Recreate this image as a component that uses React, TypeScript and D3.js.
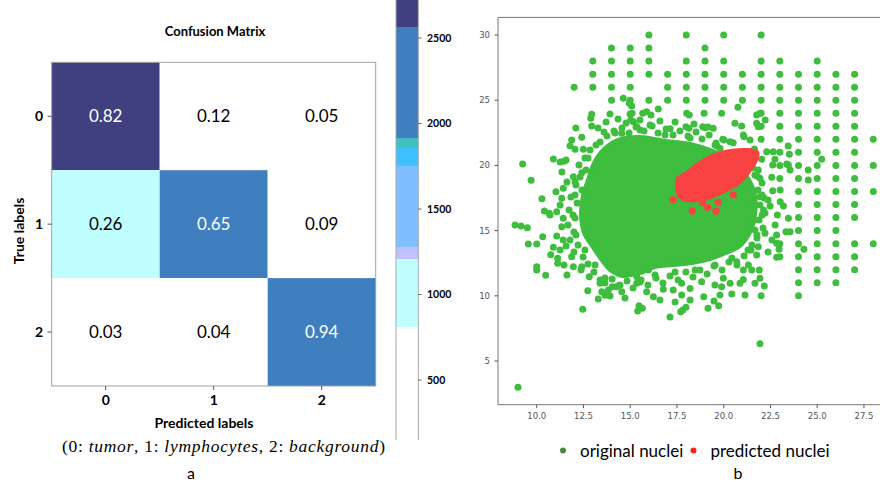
import React from 'react';
import * as d3 from 'd3';

// ---------- panel a: confusion matrix ----------
const classLabels = ['0', '1', '2'];
const matrixValues = [
	[0.82, 0.12, 0.05],
	[0.26, 0.65, 0.09],
	[0.03, 0.04, 0.94],
];
// sample counts behind the cell colours
const matrixCounts = [
	[2650, 420, 170],
	[1000, 2250, 300],
	[110, 140, 2400],
];
const colorbarTicks = [500, 1000, 1500, 2000, 2500];
const colorbarBounds = [810, 1208, 1278, 1752, 1857, 1915, 2564];
const colorbarColors = ['#ffffff', '#c0ffff', '#c0c0ff', '#80bfff', '#40bfff', '#40bfbf', '#3f7fbf', '#403f7f'];
const colorbarDomain = [150, 2722];

// ---------- panel b: nuclei scatter ----------
const xTickLabels = [10, 12.5, 15, 17.5, 20, 22.5, 25, 27.5];
const yTickLabels = [5, 10, 15, 20, 25, 30];

// sparse nuclei lying on the integer grid: row value -> column values
const gridRowY = [30, 29, 28, 27, 26, 25, 24, 23, 22, 21, 20, 19, 18, 17, 16, 15, 14, 13, 12, 11, 10];
const gridRowX = [
	[16, 18, 20, 22],
	[14, 15, 16, 19],
	[13, 14, 15, 16, 18, 19, 20, 22, 23, 25],
	[13, 14, 15, 16, 17, 18, 19, 20, 21, 22, 23, 24, 25, 26, 27],
	[12, 13, 14, 15, 17, 18, 19, 20, 21, 22, 23, 24, 25, 26, 27],
	[14, 15, 16, 17, 18, 19, 20, 21, 22, 23, 24, 25, 26, 27],
	[22, 23, 24, 25, 26, 27],
	[22, 23, 24, 25, 26, 27],
	[22, 23, 24, 25, 26, 27, 28],
	[23, 24, 25, 26, 27],
	[23, 24, 25, 26, 27, 28],
	[23, 24, 25, 26, 27],
	[24, 25, 26, 27, 28],
	[24, 25, 26, 27],
	[24, 25, 26, 27],
	[24, 25, 26],
	[23, 24, 25, 26, 27, 28],
	[23, 24, 25, 26, 27],
	[24, 25, 26, 27],
	[24, 25, 26],
	[22, 24],
];

// solid, fully overlapped part of the original nuclei cloud
const denseOriginalOutline: [number, number][] = [
	[13.55, 21.18], [14.35, 21.95], [15.52, 22.18], [16.86, 21.87], [18.2, 21.64], [19.43, 21.1],
	[20.6, 20.18], [21.3, 19.03], [21.67, 17.73], [21.67, 16.2], [21.41, 14.89], [20.87, 13.82],
	[20.12, 13.28], [19.27, 12.82], [18.3, 12.51], [17.3, 12.36], [16.33, 12.21], [15.52, 11.75],
	[14.56, 11.52], [13.92, 11.98], [13.44, 12.82], [12.96, 13.82], [12.53, 14.82], [12.37, 16.2],
	[12.48, 17.73], [12.74, 18.88], [13.06, 20.18],
];

const originalNuclei: [number, number][] = [
	// outliers, left and bottom
	[9.25, 20.11], [9.7, 18.86], [8.84, 15.43], [9.16, 15.35], [9.5, 15.22], [10.28, 17.45], [10.41, 16.5],
	[10.89, 20.49], [11.25, 20.26], [11.46, 20.31], [11.03, 17.98], [10.32, 14.53], [10.67, 16.33],
	[9.55, 13.97], [10.0, 13.97], [10.0, 12.23], [10.0, 11.98], [10.48, 11.57], [10.75, 13.15],
	[10.89, 13.72], [11.12, 12.88], [11.12, 12.49], [11.46, 12.36], [11.57, 13.82], [12.46, 8.96],
	[12.73, 10.39], [13.29, 9.75], [13.65, 10.04], [14.04, 10.7], [15.4, 8.83], [15.47, 9.24],
	[15.65, 9.04], [17.13, 8.37], [17.7, 8.78], [17.81, 8.91], [17.98, 9.12], [19.16, 9.04],
	[19.73, 9.24], [19.48, 9.6], [18.93, 9.93], [21.94, 6.33], [9.0, 2.98], [22.17, 10.75],
	[21.05, 11.26], [20.87, 10.96], [20.43, 10.14], [19.89, 10.7], [22.83, 12.95], [24.29, 13.57],
	[22.96, 13.57],
	// upper edge
	[12.09, 22.87], [11.78, 21.51], [11.87, 21.95], [12.41, 22.15], [12.89, 23.61], [12.94, 23.92],
	[13.6, 22.56], [14.63, 25.15], [14.95, 24.76], [15.08, 24.55], [15.1, 24.0], [15.03, 23.48],
	[15.67, 24.0], [15.88, 24.12], [16.11, 23.86], [16.5, 24.32], [16.06, 23.1], [15.17, 23.35],
	[15.35, 22.97], [14.55, 22.46], [17.13, 22.81], [18.02, 24.0], [18.16, 23.86], [17.98, 22.97],
	[18.14, 22.84], [18.88, 22.97], [19.0, 22.89], [19.44, 22.84], [20.76, 24.46], [20.6, 23.23],
	[21.76, 23.86], [21.94, 24.0], [22.22, 23.48], [21.76, 23.23], [21.09, 22.2], [21.85, 22.97],
	[20.34, 21.82], [20.51, 21.74], [19.63, 21.49], [19.8, 21.31], [21.64, 21.26], [22.3, 21.05],
	[22.65, 21.05], [22.74, 20.47], [23.45, 21.49], [23.51, 20.85], [23.37, 20.11], [23.55, 19.65],
	[25.24, 20.47], [18.95, 24.0],
	// left flank
	[13.92, 23.94], [14.99, 23.94], [12.94, 23.02], [12.05, 21.23], [12.49, 21.23], [12.41, 19.44],
	[11.96, 19.13], [12.05, 18.75], [11.42, 18.24], [11.34, 17.48], [11.07, 16.45], [10.71, 16.2],
	[11.42, 15.94], [11.34, 15.3], [11.07, 14.59], [11.87, 13.0], [11.96, 12.23], [12.41, 12.23],
	[12.81, 11.46], [13.39, 10.96], [13.48, 10.31], [13.83, 10.44], [14.28, 10.7], [14.55, 10.31],
	[15.35, 10.96],
	// lower edge
	[15.35, 11.46], [15.97, 11.98], [15.88, 10.31], [16.24, 9.93], [16.77, 10.5], [17.3, 10.44],
	[17.75, 10.96], [17.75, 10.06], [18.2, 10.57], [18.82, 11.08], [19.53, 10.83], [19.8, 10.06],
	[19.98, 11.34], [20.34, 10.96], [21.05, 11.98], [21.32, 12.36], [21.5, 11.98], [21.67, 10.96],
	[21.9, 11.98], [21.94, 11.34], [22.83, 14.03], [22.83, 14.66], [23.33, 14.92], [22.21, 14.79],
	[21.85, 13.76], [21.76, 13.13], [20.7, 12.61],
	// right flank
	[19.89, 24.0], [20.96, 23.02], [19.95, 22.0], [21.05, 22.33], [21.41, 21.95], [22.03, 20.47],
	[22.62, 20.03], [23.46, 20.03], [21.85, 19.65], [21.94, 19.01], [22.57, 19.09], [23.02, 18.11],
	[22.62, 18.06], [23.02, 17.22], [23.19, 16.89], [22.48, 16.89], [22.13, 16.58], [22.87, 16.2],
	[23.46, 15.94], [23.55, 14.92], [22.75, 15.43], [21.67, 15.05], [21.67, 15.81], [21.58, 16.83],
	[24.52, 19.65], [24.52, 18.88], [21.94, 17.6],
	// ring around the solid core
	[13.39, 21.79], [13.76, 22.25], [14.13, 22.64], [14.56, 22.87], [14.94, 22.48], [15.31, 22.94],
	[15.74, 22.64], [16.17, 23.02], [16.49, 22.48], [16.92, 22.79], [17.29, 22.33], [17.66, 22.64],
	[18.09, 22.25], [18.52, 22.56], [18.84, 22.02], [19.22, 22.33], [19.59, 21.72], [20.02, 21.95],
	[12.85, 21.18], [12.58, 20.57], [12.26, 20.03], [12.64, 19.65], [12.1, 18.5], [12.42, 18.11],
	[11.83, 17.58], [12.16, 17.12], [11.73, 16.58], [12.05, 15.97], [11.67, 15.43], [11.99, 14.89],
	[11.78, 14.28], [12.21, 13.89], [11.99, 13.36], [12.48, 12.97], [12.74, 12.44], [12.37, 11.98],
	[13.06, 11.82], [13.39, 11.21],
	[13.65, 10.98], [14.03, 11.29], [14.35, 10.75], [14.83, 11.13], [15.15, 10.6], [15.58, 11.21],
	[15.95, 10.83], [16.38, 11.36], [16.75, 10.98], [17.13, 11.52], [17.56, 11.21], [17.98, 11.82],
	[18.36, 11.44], [18.73, 11.98], [19.11, 11.67], [19.48, 12.28], [19.91, 11.98], [20.28, 12.59],
	[20.71, 12.36], [21.09, 13.05], [21.46, 13.51],
	[20.87, 20.8], [21.3, 20.41], [21.56, 19.8], [21.78, 19.19], [22.05, 18.65], [21.83, 18.11],
	[22.16, 17.5], [21.94, 16.96], [22.21, 16.35], [21.89, 15.81], [22.1, 15.2], [21.78, 14.43],
	[21.51, 13.89],
	// edge of the cloud, just outside the ring
	[13.17, 21.56], [14.19, 22.48], [15.53, 22.71], [16.86, 22.33], [18.2, 22.1], [19.54, 21.56],
	[20.87, 20.57], [21.67, 19.26], [22.05, 17.73], [22.05, 16.2], [21.78, 14.66], [21.3, 13.51],
	[20.44, 12.9], [19.54, 12.36], [18.47, 11.98], [17.4, 11.82], [16.33, 11.59], [15.53, 11.06],
	[14.45, 10.83], [13.65, 11.36], [13.12, 12.36], [12.58, 13.51], [12.1, 14.66], [11.94, 16.2],
	[12.05, 17.73], [12.32, 19.11], [12.74, 20.57],
	[13.28, 22.87], [13.71, 23.33], [14.35, 23.56], [14.78, 23.25], [15.52, 23.48], [16.59, 23.4],
	[17.4, 23.33], [18.41, 23.17], [19.16, 22.94],
	[11.57, 20.41], [11.35, 19.49], [11.62, 18.73], [11.25, 16.96], [11.41, 14.28], [11.25, 13.51],
	[11.62, 11.59],
	[13.92, 9.98], [14.72, 9.83], [16.59, 9.68], [17.4, 9.52], [18.2, 9.68], [21.14, 10.06],
	[22.37, 17.35], [22.58, 14.28], [22.37, 13.36],
];

// overlapped cluster of predicted nuclei, and the few that stand apart
const densePredictedOutline: [number, number][] = [
	[17.52, 18.88], [17.68, 17.58], [18.73, 17.35], [19.8, 17.88], [20.87, 18.73], [21.41, 19.65],
	[21.78, 20.57], [21.78, 21.03], [21.14, 21.18], [20.07, 21.03], [19.27, 20.64], [18.57, 20.03],
	[18.09, 19.49], [17.74, 19.19],
];
const predictedNuclei: [number, number][] = [
	[17.3, 17.35], [18.32, 16.5], [19.14, 16.79], [19.59, 16.5], [19.7, 17.17], [20.51, 17.73], [18.86, 17.14],
];

const legendItems = [
	{ label: 'original nuclei', color: '#4a8a3a' },
	{ label: 'predicted nuclei', color: '#ff1f1f' },
];

const GREEN = '#3ebd3e';
const RED = '#f94242';
const SANS = 'Lato, "Open Sans", sans-serif';

const ConfusionPanel = () => {
	const col = d3.scaleBand().domain(classLabels).range([51.7, 375.7]);
	const row = d3.scaleBand().domain(classLabels).range([62.3, 386]);
	const colorOf = d3.scaleThreshold<number, string>().domain(colorbarBounds).range(colorbarColors);
	const cbY = d3.scaleLinear().domain(colorbarDomain).range([440, 0]);
	const cbBands = colorbarColors.map((c, i) => ({
		color: c,
		lo: i === 0 ? colorbarDomain[0] : colorbarBounds[i - 1],
		hi: i === colorbarColors.length - 1 ? colorbarDomain[1] : colorbarBounds[i],
	}));
	const bw = col.bandwidth();
	const bh = row.bandwidth();

	return (
		<g fontFamily={SANS}>
			<text x={215} y={36} textAnchor="middle" fontSize={13} fontWeight="bold">
				Confusion Matrix
			</text>
			{matrixValues.map((r, i) =>
				r.map((v, j) => {
					const count = matrixCounts[i][j];
					const fill = colorOf(count);
					const dark = count >= 1915;
					return (
						<g key={`${i}-${j}`}>
							<rect x={col(classLabels[j])} y={row(classLabels[i])} width={bw} height={bh} fill={fill} />
							<text
								x={col(classLabels[j])! + bw / 2}
								y={row(classLabels[i])! + bh / 2}
								dy="0.35em"
								textAnchor="middle"
								fontSize={17}
								fill={dark ? '#ffffff' : '#000000'}>
								{v.toFixed(2)}
							</text>
						</g>
					);
				})
			)}
			<rect x={51.7} y={62.3} width={324} height={323.7} fill="none" stroke="#a0a0a0" strokeWidth={1} />
			{classLabels.map((c) => (
				<g key={'x' + c}>
					<line x1={col(c)! + bw / 2} x2={col(c)! + bw / 2} y1={386} y2={390} stroke="#555" />
					<text x={col(c)! + bw / 2} y={405} textAnchor="middle" fontSize={14} fontWeight="bold">
						{c}
					</text>
					<line x1={47.5} x2={51.7} y1={row(c)! + bh / 2} y2={row(c)! + bh / 2} stroke="#555" />
					<text x={39} y={row(c)! + bh / 2} dy="0.35em" textAnchor="middle" fontSize={14} fontWeight="bold">
						{c}
					</text>
				</g>
			))}
			<text x={0} y={0} transform="translate(24,231) rotate(-90)" textAnchor="middle" fontSize={14} fontWeight="bold">
				True labels
			</text>
			<text x={204} y={428} textAnchor="middle" fontSize={14} fontWeight="bold">
				Predicted labels
			</text>
			<text
				x={62}
				y={452}
				fontSize={17.5}
				textLength={323}
				lengthAdjust="spacing"
				fontFamily='"Liberation Serif", serif'>
				(0: <tspan fontStyle="italic">tumor</tspan>, 1: <tspan fontStyle="italic">lymphocytes</tspan>, 2:{' '}
				<tspan fontStyle="italic">background</tspan>)
			</text>
			<text x={191} y={479} textAnchor="middle" fontSize={16}>
				a
			</text>

			{/* colour bar */}
			{cbBands.map((b) => (
				<rect key={b.color} x={396} width={22.3} y={cbY(b.hi)} height={cbY(b.lo) - cbY(b.hi)} fill={b.color} />
			))}
			<line x1={396} x2={396} y1={0} y2={440} stroke="#a8a8a8" />
			<line x1={418.3} x2={418.3} y1={0} y2={440} stroke="#a8a8a8" />
			{colorbarTicks.map((t) => (
				<g key={t}>
					<line x1={418.3} x2={421.5} y1={cbY(t)} y2={cbY(t)} stroke="#666" />
					<text x={427} y={cbY(t)} dy="0.35em" fontSize={10.5} fontWeight="bold">
						{t}
					</text>
				</g>
			))}
		</g>
	);
};

const ScatterPanel = () => {
	const x = d3.scaleLinear().domain([7.93, 29]).range([498, 892]);
	const y = d3.scaleLinear().domain([1.65, 31.35]).range([404.7, 17.4]);
	const gridPoints: [number, number][] = gridRowY.flatMap((yy, i) => gridRowX[i].map((xx) => [xx, yy] as [number, number]));
	const blob = d3
		.line<[number, number]>()
		.x((d) => x(d[0]))
		.y((d) => y(d[1]))
		.curve(d3.curveCatmullRomClosed.alpha(0.5));

	return (
		<g>
			<defs>
				<clipPath id="plotClip">
					<rect x={498} y={17.4} width={400} height={387.3} />
				</clipPath>
			</defs>
			<g clipPath="url(#plotClip)">
				<path d={blob(denseOriginalOutline)!} fill={GREEN} stroke={GREEN} strokeWidth={4} strokeLinejoin="round" />
				{[...gridPoints, ...originalNuclei].map((d, i) => (
					<circle key={'g' + i} cx={x(d[0])} cy={y(d[1])} r={3.5} fill={GREEN} />
				))}
				<path d={blob(densePredictedOutline)!} fill={RED} stroke={RED} strokeWidth={4} strokeLinejoin="round" />
				{predictedNuclei.map((d, i) => (
					<circle key={'r' + i} cx={x(d[0])} cy={y(d[1])} r={3.6} fill={RED} />
				))}
			</g>
			{/* spines */}
			<path d="M880,17.4 H498 V404.7 H880" fill="none" stroke="#777" strokeWidth={1} />
			<g fontFamily='"DejaVu Sans", sans-serif' fontSize={8.5} fill="#555">
				{xTickLabels.map((t) => (
					<g key={'xt' + t}>
						<line x1={x(t)} x2={x(t)} y1={404.7} y2={408.2} stroke="#555" />
						<text x={x(t)} y={419} textAnchor="middle">
							{d3.format('.1f')(t)}
						</text>
					</g>
				))}
				{yTickLabels.map((t) => (
					<g key={'yt' + t}>
						<line x1={494.5} x2={498} y1={y(t)} y2={y(t)} stroke="#555" />
						<text x={490} y={y(t)} dy="0.35em" textAnchor="end">
							{t}
						</text>
					</g>
				))}
			</g>
			<g fontFamily={SANS} fontSize={17}>
				{legendItems.map((it, i) => {
					const lx = i === 0 ? 563 : 693.5;
					return (
						<g key={it.label}>
							<circle cx={lx} cy={450.5} r={3} fill={it.color} />
							<text x={lx + 17} y={457}>
								{it.label}
							</text>
						</g>
					);
				})}
				<text x={738} y={479} textAnchor="middle" fontSize={16}>
					b
				</text>
			</g>
		</g>
	);
};

export default function App() {
	return (
		<svg width={880} height={482} style={{ position: 'absolute', left: 0, top: 0, background: '#fff' }}>
			<ConfusionPanel />
			<ScatterPanel />
		</svg>
	);
}
